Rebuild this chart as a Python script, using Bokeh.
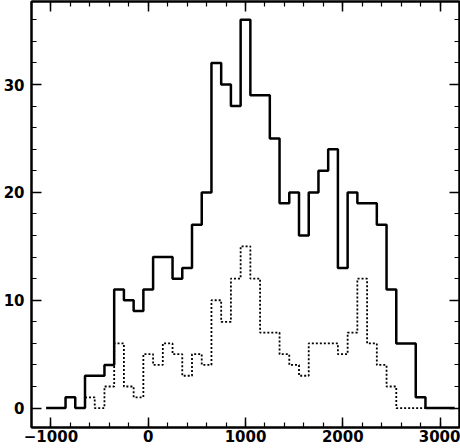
import numpy as np
from bokeh.plotting import figure
from bokeh.models import Range1d, LinearAxis, SingleIntervalTicker, CustomJSTickFormatter
from bokeh.embed import file_html
from bokeh.resources import INLINE

# Bin centres (bin width 100)
solid_centers = list(range(-1000, 3200, 100))
solid_counts = [0, 0, 1, 0, 3, 3, 4, 11, 10, 9, 11, 14, 14, 12, 13, 17, 20, 32, 30, 28,
                36, 29, 29, 25, 19, 20, 16, 20, 22, 24, 13, 20, 19, 19, 17, 11, 6, 6, 1,
                0, 0, 0]

dotted_centers = list(range(-600, 2900, 100))
dotted_counts = [1, 0, 2, 6, 2, 1, 5, 4, 6, 5, 3, 5, 4, 10, 8, 12, 15, 12, 7, 7, 5, 4, 3,
                 6, 6, 6, 5, 7, 12, 6, 4, 2, 0, 0, 0]

x_ticks = [-1000, 0, 1000, 2000, 3000]
x_tick_labels = ["\u22121000", "0", "1000", "2000", "3000"]
y_ticks = [0, 10, 20, 30]


def edges(centers, counts):
    c = np.asarray(centers, dtype=float)
    half = (c[1] - c[0]) / 2.0
    xe = np.append(c - half, c[-1] + half)
    ye = np.append(np.asarray(counts, dtype=float), counts[-1])
    return xe, ye


p = figure(width=460, height=448, output_backend="svg", toolbar_location=None,
           x_range=Range1d(-1200, 3200), y_range=Range1d(-1.8, 37.7),
           min_border_left=30, min_border_right=1, min_border_top=1,
           min_border_bottom=21, x_axis_location=None, y_axis_location=None)
p.xgrid.visible = False
p.ygrid.visible = False
p.outline_line_color = "black"
p.outline_line_width = 2
p.background_fill_color = "white"
p.border_fill_color = "white"

FONT = "DejaVu Sans"


def style(ax, labels=True):
    ax.axis_line_color = "black"
    ax.axis_line_width = 2
    ax.axis_label_standoff = 0
    ax.major_tick_in = 10
    ax.major_tick_out = 0
    ax.minor_tick_in = 5
    ax.minor_tick_out = 0
    ax.major_tick_line_width = 1.5
    ax.minor_tick_line_width = 1.2
    ax.major_tick_line_color = "black"
    ax.minor_tick_line_color = "black"
    ax.major_label_text_font = FONT
    ax.major_label_text_font_style = "bold"
    ax.major_label_text_color = "black"
    ax.major_label_text_font_size = "15px"
    if not labels:
        ax.formatter = CustomJSTickFormatter(code="return '';")
        ax.major_label_standoff = 0
        ax.major_label_text_font_size = "1px"


bottom = LinearAxis(ticker=SingleIntervalTicker(interval=1000, num_minor_ticks=5))
style(bottom)
bottom.major_label_standoff = 2
bottom.major_label_overrides = {t: s for t, s in zip(x_ticks, x_tick_labels)}
p.add_layout(bottom, "below")

left = LinearAxis(ticker=SingleIntervalTicker(interval=10, num_minor_ticks=5))
style(left)
left.major_label_standoff = 7
p.add_layout(left, "left")

top = LinearAxis(ticker=SingleIntervalTicker(interval=1000, num_minor_ticks=5))
style(top, labels=False)
p.add_layout(top, "above")

right = LinearAxis(ticker=SingleIntervalTicker(interval=10, num_minor_ticks=5))
style(right, labels=False)
p.add_layout(right, "right")

dx, dy = edges(dotted_centers, dotted_counts)
p.step(dx, dy, mode="after", line_color="black", line_width=1.8, line_dash="2 2")

sx, sy = edges(solid_centers, solid_counts)
p.step(sx, sy, mode="after", line_color="black", line_width=2.5)

open("out.html", "w").write(file_html(p, INLINE))
